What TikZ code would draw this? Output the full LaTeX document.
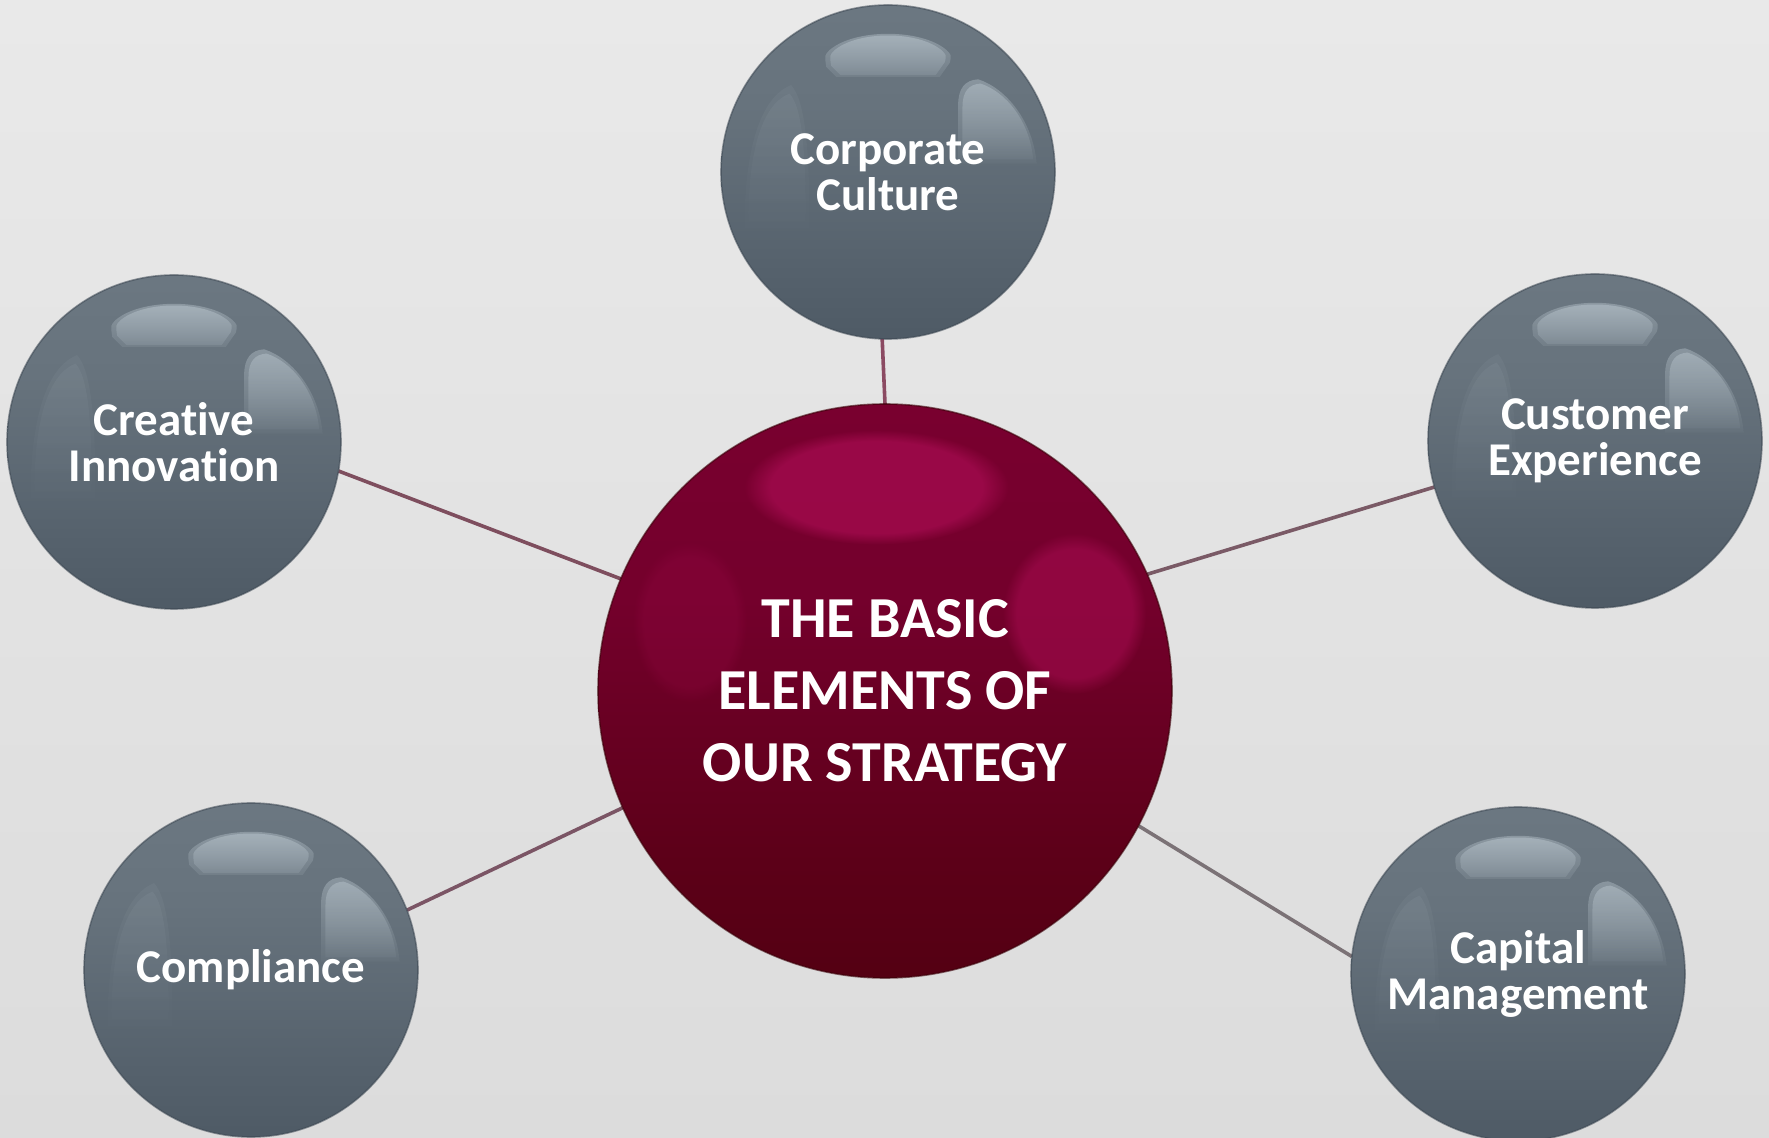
\documentclass[tikz,border=0pt]{standalone}
\usepackage{fontspec}
\setmainfont{Carlito}[Ligatures=NoCommon]
\usetikzlibrary{fadings}

\definecolor{bgTop}{HTML}{E9E9E9}
\definecolor{bgBot}{HTML}{DCDCDC}
\definecolor{gbTop}{HTML}{707C86}
\definecolor{gbMid}{HTML}{67737D}
\definecolor{gbLow}{HTML}{55616C}
\definecolor{gbBot}{HTML}{434F5A}
\definecolor{gbHL}{HTML}{BCC8D0}
\definecolor{gbRim}{HTML}{3C4752}
\definecolor{rbTop}{HTML}{7E0032}
\definecolor{rbMid}{HTML}{74002C}
\definecolor{rbLow}{HTML}{5C0018}
\definecolor{rbBot}{HTML}{48000B}
\definecolor{rbHL}{HTML}{A80C52}
\definecolor{rbRim}{HTML}{3A0008}
\definecolor{lkA}{HTML}{8B4A62}
\definecolor{lkB}{HTML}{7E4E5E}
\definecolor{lkC}{HTML}{7A5A66}
\definecolor{lkD}{HTML}{7B5565}
\definecolor{lkE}{HTML}{7B7276}

\pgfdeclareverticalshading{greyballshade}{100bp}{color(0bp)=(gbBot); color(8bp)=(gbBot); color(35bp)=(gbLow); color(60bp)=(gbMid); color(92bp)=(gbTop); color(100bp)=(gbTop)}
\pgfdeclareverticalshading{redballshade}{100bp}{color(0bp)=(rbBot); color(10bp)=(rbBot); color(35bp)=(rbLow); color(58bp)=(rbMid); color(92bp)=(rbTop); color(100bp)=(rbTop)}

\tikzfading[name=hlsoft, top color=transparent!0, middle color=transparent!35, bottom color=transparent!72]
\tikzfading[name=hlright, top color=transparent!0, middle color=transparent!45, bottom color=transparent!88]

\pgfdeclarelayer{backdrop}
\pgfdeclarelayer{links}
\pgfdeclarelayer{balls}
\pgfsetlayers{backdrop,links,balls,main}

% soft highlight: the same shape filled twice, shrunk toward a centre
\tikzset{
  softhl/.style n args={3}{shift={(#1,#2)}, scale=#3, shift={(-#1,-#2)}},
}

% grey sphere drawn at the centre of a named node
\newcommand\greyballat[1]{%
  \begin{scope}[shift={(#1.center)}, x=83.5pt, y=83.5pt]
    \begin{scope}
      \clip (0,0) circle (1);
      \shade[shading=greyballshade] (-1,-1) rectangle (1,1);
      \foreach \s/\o in {1/0.07,0.88/0.08}{
        \fill[gbHL, opacity=\o, path fading=hlright, softhl={-0.66}{0.1}{\s}]
          (-0.58,0.52) .. controls (-0.76,0.45) and (-0.86,0.15) .. (-0.86,-0.35)
          -- (-0.47,-0.35) .. controls (-0.47,0.1) and (-0.49,0.42) .. (-0.58,0.52) -- cycle;
      }
      \foreach \s/\o in {1/0.45,0.92/0.55}{
        \fill[gbHL, opacity=\o, path fading=hlsoft, softhl={0}{0.70}{\s}]
          (-0.37,0.63) .. controls (-0.38,0.70) .. (-0.35,0.73)
          .. controls (-0.2,0.86) and (0.2,0.86) .. (0.35,0.73)
          .. controls (0.38,0.70) .. (0.37,0.655) -- (0.31,0.57) -- (-0.31,0.57) -- cycle;
      }
      \foreach \s/\o in {1/0.4,0.9/0.45}{
        \fill[gbHL, opacity=\o, path fading=hlright, softhl={0.68}{0.3}{\s}]
          (0.42,0.05) -- (0.42,0.40) .. controls (0.42,0.50) and (0.46,0.55) .. (0.54,0.555)
          .. controls (0.71,0.50) and (0.87,0.30) .. (0.89,0.05) -- cycle;
      }
    \end{scope}
    \draw[gbRim, line width=0.8pt, opacity=0.55] (0,0) circle (1);
  \end{scope}}

% red sphere drawn at the centre of a named node
\newcommand\redballat[1]{%
  \begin{scope}[shift={(#1.center)}, x=143.5pt, y=143.5pt]
    \begin{scope}
      \clip (0,0) circle (1);
      \shade[shading=redballshade] (-1,-1) rectangle (1,1);
      \fill[rbHL, opacity=0.2, path fading=circle with fuzzy edge 20 percent]
        (-0.68,0.24) ellipse (0.2 and 0.28);
      \fill[rbHL, opacity=0.7, path fading=circle with fuzzy edge 20 percent]
        (-0.03,0.71) ellipse (0.46 and 0.2);
      \fill[rbHL, opacity=0.55, path fading=circle with fuzzy edge 20 percent]
        (0.66,0.27) ellipse (0.25 and 0.28);
    \end{scope}
    \draw[rbRim, line width=0.8pt, opacity=0.6] (0,0) circle (1);
  \end{scope}}

\tikzset{
  ball/.style={circle, inner sep=0pt, outer sep=0pt, align=center, text=white},
  greyball/.style={ball, minimum size=167pt,
    font=\bfseries\fontsize{23.5}{23}\selectfont},
  bigball/.style={ball, minimum size=287pt,
    font=\bfseries\fontsize{29}{36}\selectfont},
  link/.style={line width=1.8pt},
}

\begin{document}
\begin{tikzpicture}[x=0.5pt, y=-0.5pt]
  \begin{pgfonlayer}{backdrop}
    \shade[top color=bgTop, bottom color=bgBot] (0,0) rectangle (1769,1138);
  \end{pgfonlayer}
  \useasboundingbox (0,0) rectangle (1769,1138);

  \node[bigball] (core) at (885,691) {THE BASIC\\ELEMENTS OF\\OUR STRATEGY};
  \node[greyball] (culture) at (888,172) {Corporate\\Culture};
  \node[greyball] (creative) at (174,442) {Creative\\Innovation};
  \node[greyball] (customer) at (1595,441) {Customer\\Experience};
  \node[greyball] (compliance) at (251,970) {Compliance};
  \node[greyball] (capital) at (1518,974) {Capital\\Management};

  \begin{pgfonlayer}{balls}
    \redballat{core}
    \greyballat{culture}
    \greyballat{creative}
    \greyballat{customer}
    \greyballat{compliance}
    \greyballat{capital}
  \end{pgfonlayer}

  \begin{pgfonlayer}{links}
    \draw[link, lkA] (culture.-92) -- (core.90.6);
    \draw[link, lkB] (creative.-10.8) -- (core.157.9);
    \draw[link, lkC] (customer.196.4) -- (core.24.8);
    \draw[link, lkD] (compliance.21.7) -- (core.204.1);
    \draw[link, lkE] (capital.174.5) -- (core.-28.8);
  \end{pgfonlayer}
\end{tikzpicture}
\end{document}
